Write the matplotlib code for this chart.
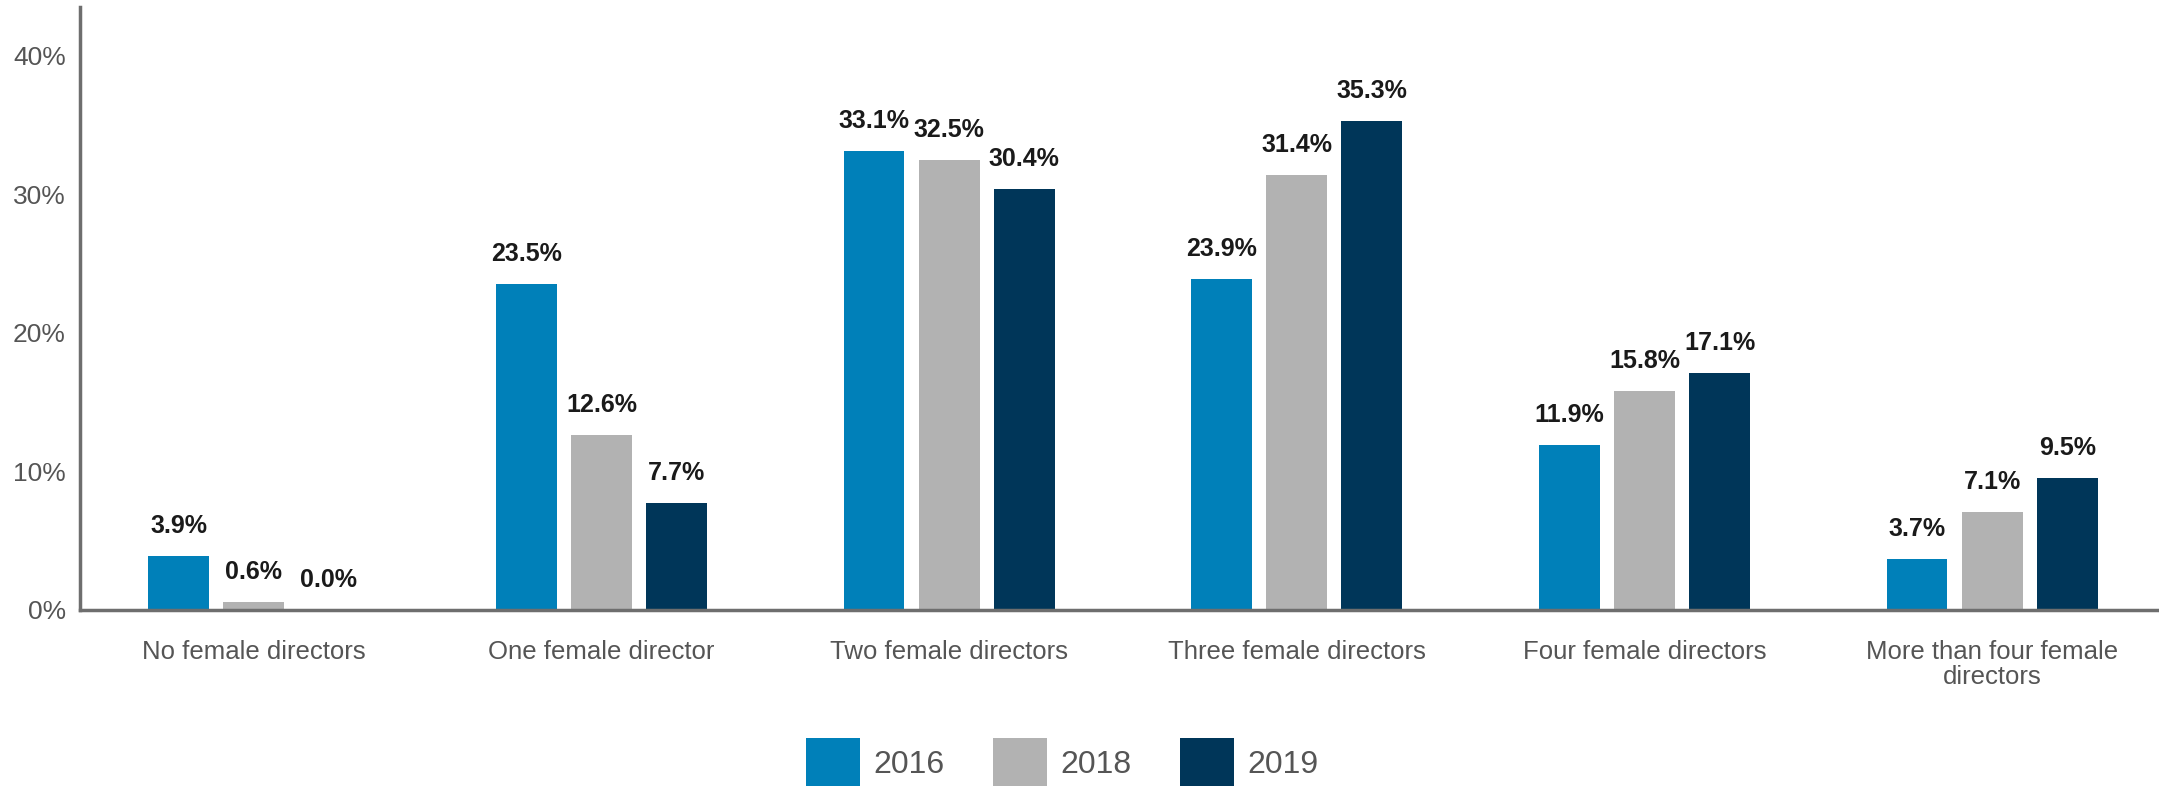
import numpy as np
import matplotlib.pyplot as plt
from matplotlib.patches import Patch

plt.rcParams['font.family'] = ['Liberation Sans', 'DejaVu Sans']

categories = ["No female directors", "One female director", "Two female directors",
              "Three female directors", "Four female directors",
              "More than four female\ndirectors"]
years = ["2016", "2018", "2019"]
v2016 = [3.9, 23.5, 33.1, 23.9, 11.9, 3.7]
v2018 = [0.6, 12.6, 32.5, 31.4, 15.8, 7.1]
v2019 = [0.0, 7.7, 30.4, 35.3, 17.1, 9.5]
yticks = [0, 10, 20, 30, 40]

colors = ['#0080B9', '#B2B2B2', '#003659']
axcol = '#6E6E6E'
txtcol = '#555555'

fig = plt.figure(figsize=(21.59, 7.86), dpi=100)
ax = fig.add_axes([0.037, 0.224, 0.963, 0.767])

x = np.arange(len(categories))
w = 0.175
step = 0.216
for i, (vals, yr) in enumerate(zip([v2016, v2018, v2019], years)):
    pos = x + (i - 1) * step
    ax.bar(pos, vals, width=w, color=colors[i], label=yr)
    for px, v in zip(pos, vals):
        ax.text(px, v + 1.3, "%.1f%%" % v, ha='center', va='bottom',
                fontsize=18, fontweight='bold', color='#1a1a1a')

ax.set_xlim(-0.5, 5.48)
ax.set_ylim(0, 43.5)
ax.set_yticks(yticks)
ax.set_yticklabels(["%d%%" % t for t in yticks])
ax.set_xticks(x)
ax.set_xticklabels(categories, linespacing=1.05)
ax.tick_params(axis='both', length=0, colors=txtcol)
ax.tick_params(axis='x', pad=22, labelsize=18.5)
ax.tick_params(axis='y', pad=10, labelsize=19)
for s in ['top', 'right']:
    ax.spines[s].set_visible(False)
for s in ['left', 'bottom']:
    ax.spines[s].set_color(axcol)
    ax.spines[s].set_linewidth(2.5)

handles = [Patch(facecolor=c, label=y) for c, y in zip(colors, years)]
leg = fig.legend(handles=handles, loc='center', bbox_to_anchor=(0.492, 0.03),
                 ncol=3, frameon=False, fontsize=23, handlelength=1.7,
                 handleheight=2.0, handletextpad=0.43, columnspacing=1.5)
for t in leg.get_texts():
    t.set_color(txtcol)

fig.savefig("out.png", dpi=100)
